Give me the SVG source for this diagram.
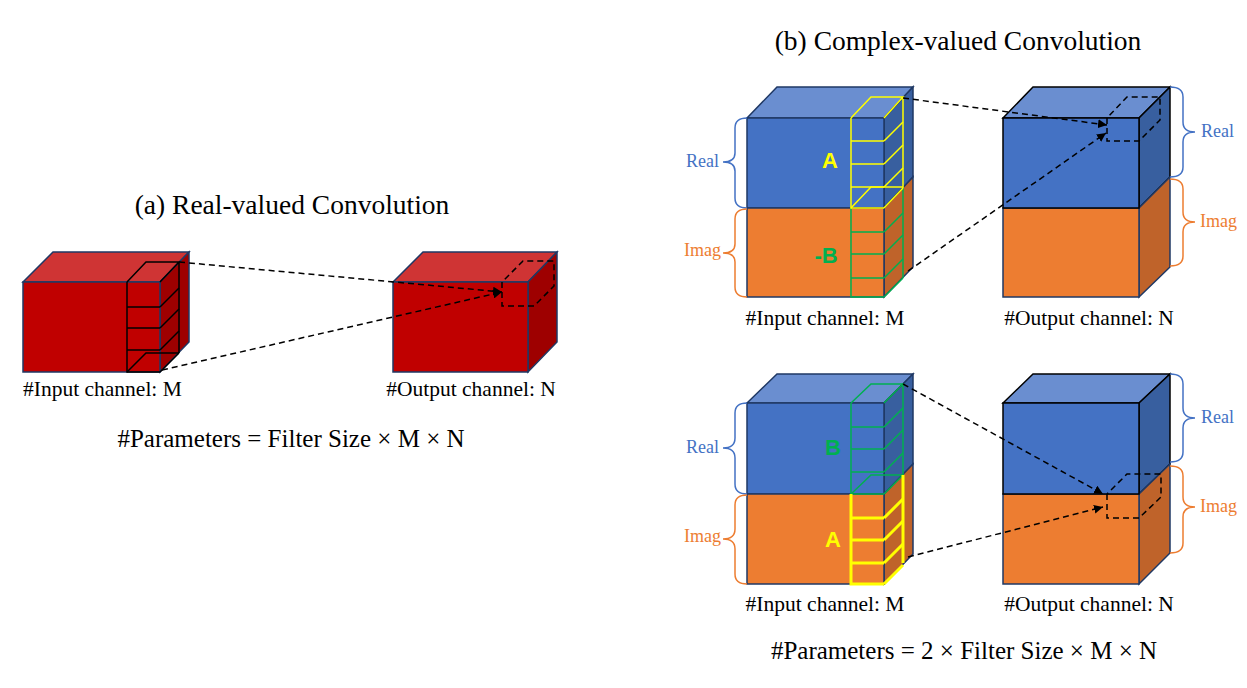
<svg xmlns="http://www.w3.org/2000/svg" width="1247" height="688" viewBox="0 0 1247 688">
<style>
.t{font-family:"Liberation Serif","Times New Roman",serif;fill:#000}
.ttl{font-size:27.5px}
.lbl{font-size:21.5px}
.par{font-size:25px}
.lr{font-size:18px;fill:#4472C4}
.li{font-size:18px;fill:#ED7D31}
.ab{font-family:"Liberation Sans",Arial,sans-serif;font-weight:bold;font-size:22px}
.rf{fill:#C00000;stroke:#1F3864;stroke-width:1.5}
.rt{fill:#CF3434;stroke:#1F3864;stroke-width:1.5}
.rs{fill:#9E0000;stroke:#1F3864;stroke-width:1.5}
.bf{fill:#4472C4;stroke:#1F3864;stroke-width:1.5}
.bt{fill:#6A8ED0;stroke:#1F3864;stroke-width:1.5}
.bs{fill:#385F9F;stroke:#1F3864;stroke-width:1.5}
.of{fill:#ED7D31;stroke:#1F3864;stroke-width:1.5}
.os{fill:#BF632A;stroke:#1F3864;stroke-width:1.5}
.k{stroke:#000}
.sk{fill:none;stroke:#000;stroke-width:1.5}
.sy{fill:none;stroke:#FFFF00;stroke-width:1.5}
.syb{fill:none;stroke:#FFFF00;stroke-width:3}
.sg{fill:none;stroke:#00B050;stroke-width:1.5}
.dash{fill:none;stroke:#000;stroke-width:1.5;stroke-dasharray:6 4}
.br{fill:none;stroke:#4472C4;stroke-width:1.5}
.bo{fill:none;stroke:#ED7D31;stroke-width:1.5}
</style>
<defs>
<marker id="ah" viewBox="0 0 10 10" refX="10" refY="5" markerWidth="9" markerHeight="9" markerUnits="userSpaceOnUse" orient="auto">
<path d="M0,0 L10,5 L0,10 z" fill="#000"/>
</marker>
</defs>

<!-- (a) -->
<text class="t ttl" x="292" y="214" text-anchor="middle">(a) Real-valued Convolution</text>

<g id="a-input">
<polygon class="rt" points="23,282 53,252 189,252 160,282"/>
<polygon class="rs" points="160,282 189,252 189,342 160,372"/>
<rect class="rf" x="23" y="282" width="137" height="90"/>
<g class="sk">
<path d="M127,282 V372 H160 M127,282 L146,262 H179 L160,282 M179,262 V353"/>
<path d="M127,307 H160 M127,328 H160 M127,350 H160"/>
<path d="M160,307 L179,288 M160,328 L179,309 M160,350 L179,331 M160,372 L179,353"/>
<path d="M127,372 L146,353 H179"/>
</g>
<text class="t lbl" x="23" y="396">#Input channel: M</text>
</g>

<g id="a-output">
<polygon class="rt" points="393,282 423,252 557,252 528,282"/>
<polygon class="rs" points="528,282 557,252 557,342 528,372"/>
<rect class="rf" x="393" y="282" width="135" height="90"/>
<path class="dash" d="M502,282 V306 H534 L554,286 V261 H523 L502,282"/>
<text class="t lbl" x="471" y="396" text-anchor="middle">#Output channel: N</text>
</g>

<text class="t par" x="291" y="447" text-anchor="middle">#Parameters = Filter Size × M × N</text>

<!-- (b) -->
<text class="t ttl" x="958" y="50" text-anchor="middle">(b) Complex-valued Convolution</text>

<g id="b-top-input">
<polygon class="bt" points="747,118 777,87 913,87 884,118"/>
<polygon class="bs" points="884,118 913,87 913,177 884,208"/>
<polygon class="os" points="884,208 913,177 913,267 884,297"/>
<rect class="bf" x="747" y="118" width="137" height="90"/>
<rect class="of" x="747" y="208" width="137" height="89"/>
<g class="sg">
<path d="M851,208 V297 H884 M903,188 V278"/>
<path d="M851,232 H884 M851,254 H884 M851,278 H884"/>
<path d="M884,232 L903,213 M884,254 L903,235 M884,278 L903,259 M884,297 L903,278"/>
</g>
<g class="sy">
<path d="M851,118 L871,97 H903 L884,118 M851,118 V208 H884 M903,97 V188"/>
<path d="M851,141 H884 M851,164 H884 M851,187 H884"/>
<path d="M884,141 L903,122 M884,164 L903,145 M884,187 L903,168 M884,208 L903,188"/>
<path d="M851,208 L871,187 H903"/>
</g>
<text class="ab" x="830" y="168" text-anchor="middle" fill="#FFFF00">A</text>
<text class="ab" x="826" y="263" text-anchor="middle" fill="#00B050">-B</text>
<path class="br" d="M747,118 Q735,118 735,128 V153 Q735,162 723,162 Q735,162 735,171 V198 Q735,208 747,208"/>
<path class="bo" d="M747,209 Q735,209 735,219 V244 Q735,253 723,253 Q735,253 735,262 V287 Q735,297 747,297"/>
<text class="t lr" x="719" y="167" text-anchor="end">Real</text>
<text class="t li" x="721" y="256" text-anchor="end">Imag</text>
<text class="t lbl" x="825" y="325" text-anchor="middle">#Input channel: M</text>
</g>

<g id="b-top-output">
<polygon class="bt k" points="1003,118 1033,87 1170,87 1139,118"/>
<polygon class="bs k" points="1139,118 1170,87 1170,177 1139,208"/>
<polygon class="os" points="1139,208 1170,177 1170,267 1139,297"/>
<rect class="of" x="1003" y="208" width="136" height="89"/>
<rect class="bf k" x="1003" y="118" width="136" height="90"/>
<path class="dash" d="M1107,118 V141 H1139 L1160,120 V97 H1127 L1107,118"/>
<path class="br" d="M1170,87 Q1183,87 1183,97 V122 Q1183,132 1195,132 Q1183,132 1183,142 V167 Q1183,177 1170,177"/>
<path class="bo" d="M1170,179 Q1183,179 1183,189 V212 Q1183,222 1195,222 Q1183,222 1183,232 V256 Q1183,266 1170,266"/>
<text class="t lr" x="1201" y="137">Real</text>
<text class="t li" x="1200" y="227">Imag</text>
<text class="t lbl" x="1089" y="325" text-anchor="middle">#Output channel: N</text>
</g>

<g id="b-bottom-input">
<polygon class="bt" points="747,403 777,374 913,374 884,403"/>
<polygon class="bs" points="884,403 913,374 913,464 884,494"/>
<polygon class="os" points="884,494 913,464 913,554 884,584"/>
<rect class="bf" x="747" y="403" width="137" height="91"/>
<rect class="of" x="747" y="494" width="137" height="90"/>
<g class="sg">
<path d="M851,403 L871,384 H903 L884,403 M851,403 V494 H884 M903,384 V475"/>
<path d="M851,427 H884 M851,449 H884 M851,472 H884"/>
<path d="M884,427 L903,408 M884,449 L903,430 M884,472 L903,453 M884,494 L903,475"/>
<path d="M851,494 L871,475 H903"/>
</g>
<g class="syb">
<path d="M851,494 V584 H884 M903,475 V563"/>
<path d="M851,518 H884 M851,540 H884 M851,563 H884"/>
<path d="M884,518 L903,499 M884,540 L903,521 M884,563 L903,544 M884,584 L903,565"/>
</g>
<text class="ab" x="833" y="455" text-anchor="middle" fill="#00B050">B</text>
<text class="ab" x="833" y="547" text-anchor="middle" fill="#FFFF00">A</text>
<path class="br" d="M747,403 Q735,403 735,413 V438 Q735,448 723,448 Q735,448 735,458 V484 Q735,494 747,494"/>
<path class="bo" d="M747,495 Q735,495 735,505 V529 Q735,539 723,539 Q735,539 735,549 V574 Q735,584 747,584"/>
<text class="t lr" x="719" y="453" text-anchor="end">Real</text>
<text class="t li" x="721" y="542" text-anchor="end">Imag</text>
<text class="t lbl" x="825" y="611" text-anchor="middle">#Input channel: M</text>
</g>

<g id="b-bottom-output">
<polygon class="bt k" points="1003,403 1033,374 1170,374 1139,403"/>
<polygon class="bs k" points="1139,403 1170,374 1170,464 1139,494"/>
<polygon class="os" points="1139,494 1170,464 1170,553 1139,584"/>
<rect class="of" x="1003" y="494" width="136" height="90"/>
<rect class="bf k" x="1003" y="403" width="136" height="91"/>
<path class="dash" d="M1107,494 V518 H1139 L1161,497 V474 H1127 L1107,494"/>
<path class="br" d="M1170,374 Q1183,374 1183,384 V408 Q1183,418 1195,418 Q1183,418 1183,428 V452 Q1183,462 1170,462"/>
<path class="bo" d="M1170,466 Q1183,466 1183,476 V497 Q1183,507 1195,507 Q1183,507 1183,517 V543 Q1183,553 1170,553"/>
<text class="t lr" x="1201" y="423">Real</text>
<text class="t li" x="1200" y="512">Imag</text>
<text class="t lbl" x="1089" y="611" text-anchor="middle">#Output channel: N</text>
</g>

<text class="t par" x="964" y="659" text-anchor="middle">#Parameters = 2 × Filter Size × M × N</text>

<g id="connectors">
<line class="dash" x1="179" y1="262" x2="502" y2="292" marker-end="url(#ah)"/>
<line class="dash" x1="162" y1="370" x2="502" y2="292" marker-end="url(#ah)"/>
<line class="dash" x1="903" y1="98" x2="1107" y2="125" marker-end="url(#ah)"/>
<line class="dash" x1="908" y1="271" x2="1106" y2="133" marker-end="url(#ah)"/>
<line class="dash" x1="903" y1="384" x2="1103" y2="494" marker-end="url(#ah)"/>
<line class="dash" x1="908" y1="557" x2="1103" y2="507" marker-end="url(#ah)"/>
</g>
</svg>
